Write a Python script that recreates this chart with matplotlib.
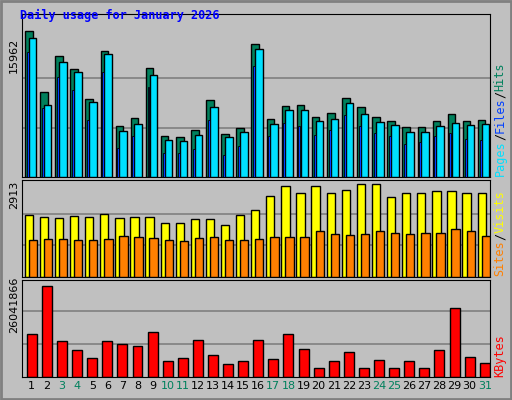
import matplotlib
matplotlib.use("Agg")
import matplotlib.pyplot as plt
import numpy as np
from matplotlib.patches import Rectangle

days = list(range(1, 32))
weekend = [3, 4, 10, 11, 17, 18, 24, 25, 31]
hits = [15700, 9200, 13000, 11600, 8400, 13600, 5500, 6400, 11800, 4400, 4300, 5100, 8300, 4600, 5300, 14300, 6300, 7700, 7800, 6500, 6900, 8500, 7500, 6500, 6000, 5400, 5400, 6000, 6800, 6000, 6100]
files = [15000, 7800, 12400, 11300, 8100, 13300, 5000, 5700, 11000, 4000, 3900, 4500, 7600, 4300, 4800, 13800, 5700, 7200, 7200, 6000, 6300, 8000, 6800, 5900, 5600, 4900, 4900, 5500, 5800, 5600, 5700]
pages = [13500, 7400, 10800, 9400, 6200, 11300, 3100, 4400, 9700, 2600, 2600, 3000, 6100, 2400, 3300, 12000, 4400, 5800, 5500, 4500, 5100, 6700, 5500, 4700, 4400, 3600, 3800, 4400, 4700, 4100, 4000]
visits = [1900, 1830, 1800, 1860, 1830, 1930, 1800, 1830, 1830, 1670, 1670, 1770, 1770, 1580, 1900, 2050, 2480, 2790, 2570, 2790, 2570, 2670, 2850, 2850, 2450, 2570, 2570, 2630, 2630, 2570, 2570]
sites = [1150, 1180, 1180, 1120, 1150, 1180, 1270, 1240, 1210, 1150, 1090, 1210, 1240, 1120, 1150, 1180, 1240, 1240, 1240, 1400, 1330, 1300, 1330, 1400, 1360, 1330, 1360, 1360, 1460, 1400, 1270]
kbytes = [12300, 26042, 10300, 7700, 5400, 10300, 9400, 8900, 12900, 4600, 5400, 10600, 6300, 3700, 4600, 10600, 5100, 12300, 8000, 2600, 4600, 7100, 2600, 4900, 2600, 4600, 2600, 7700, 19700, 5700, 4000]
kbytes = [v * 1000 for v in kbytes]

W, H = 512, 400
fig = plt.figure(figsize=(W / 100, H / 100), dpi=100)
fig.patch.set_facecolor("#c0c0c0")
bg = "#c0c0c0"
mono = "DejaVu Sans Mono"

def ax_at(x0, y0, x1, y1):
    a = fig.add_axes([x0 / W, 1 - y1 / H, (x1 - x0) / W, (y1 - y0) / H])
    a.set_facecolor(bg)
    a.set_xlim(0.35, 31.35)
    a.set_xticks([])
    a.set_yticks([])
    for s in a.spines.values():
        s.set_color("black")
    return a

x = np.array(days, dtype=float)
ec = dict(edgecolor="black", linewidth=1)

a1 = ax_at(22, 14, 490, 177)
a1.set_ylim(0, 15962 * 163 / 148)
for g in (1 / 3, 2 / 3):
    a1.axhline(15962 * g, color="#808080", lw=1.2, zorder=0)
a1.bar(x - 0.2, hits, 0.5, color="#00805c", **ec, zorder=2)
a1.bar(x + 0.05, files, 0.5, color="#00e0ff", **ec, zorder=3)
a1.bar(x - 0.27, pages, 0.13, color="#0040ff", edgecolor="black", linewidth=0.6, zorder=4)

a2 = ax_at(22, 180, 490, 277)
a2.set_ylim(0, 2913 * 96 / 94)
for g in (1 / 3, 2 / 3):
    a2.axhline(2913 * g, color="#808080", lw=1.2, zorder=0)
a2.bar(x - 0.2, visits, 0.55, color="#ffff00", **ec, zorder=2)
a2.bar(x + 0.07, sites, 0.55, color="#ff8000", **ec, zorder=3)

a3 = ax_at(22, 280, 490, 377)
kmax = 26041866
a3.set_ylim(0, kmax * 97 / 91)
for g in (0.36, 0.72):
    a3.axhline(kmax * g, color="#808080", lw=1.2, zorder=0)
a3.bar(x, kbytes, 0.66, color="#ff0000", **ec, zorder=2)

for d in days:
    a3.text(d, -0.04, str(d), transform=a3.get_xaxis_transform(), ha="center", va="top",
            fontsize=8, color="#00805c" if d in weekend else "black")

fig.text(20 / W, 1 - 15 / H, "Daily usage for January 2026", color="#0000ff",
         fontsize=8.5, fontweight="bold", family=mono, va="center")

for yc, lab in ((55, "15962"), (195, "2913"), (305, "26041866")):
    fig.text(14 / W, 1 - yc / H, lab, rotation=90, fontsize=8, ha="center", va="center")

def right_label(ybottom, parts, fs=8.5):
    ch = fs * 100 / 72 * 0.602
    y = ybottom
    for t, c in parts:
        fig.text(500 / W, 1 - y / H, t, rotation=90, color=c, fontsize=fs,
                 family=mono, ha="center", va="bottom")
        y -= len(t) * ch

right_label(176, [("Pages", "#00e0ff"), ("/", "black"), ("Files", "#0040ff"), ("/", "black"), ("Hits", "#00805c")])
right_label(276, [("Sites", "#ff8000"), ("/", "black"), ("Visits", "#ffff00")])
right_label(377, [("KBytes", "#ff0000")])

fig.patches.append(Rectangle((0.002, 0.002), 0.996, 0.996, transform=fig.transFigure,
                             fill=False, edgecolor="#808080", lw=2))

fig.savefig("out.png", dpi=100, facecolor=fig.get_facecolor())
